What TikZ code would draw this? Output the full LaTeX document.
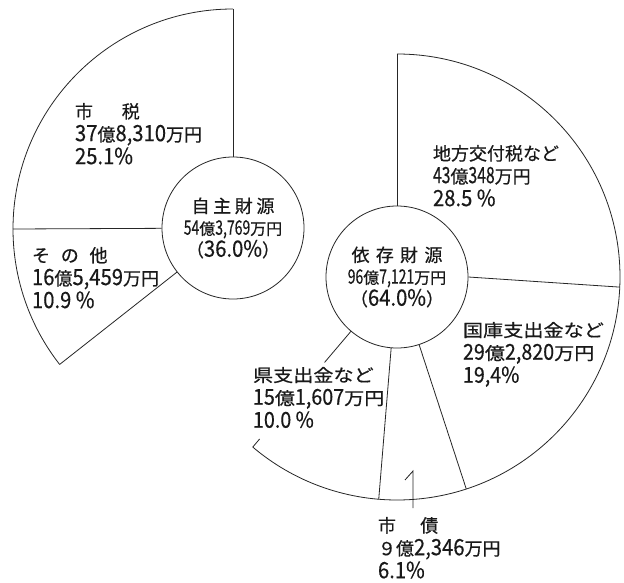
\documentclass[tikz,border=0pt]{standalone}
\usepackage{fontspec}
\setmainfont{Noto Sans CJK JP}[FakeBold=0.5]
\newfontfamily\dg[Scale=1.25,FakeStretch=0.9,FakeBold=0.35]{Noto Sans CJK JP}
\newfontfamily\dgn[Scale=1.25,FakeStretch=0.7,FakeBold=0.35]{Noto Sans CJK JP}
\newfontfamily\cw[FakeStretch=1.15,FakeBold=0.5]{Noto Sans CJK JP}
\usetikzlibrary{calc}
\begin{document}
\begin{tikzpicture}[x=1pt,y=-1pt,
  edge/.style={line width=0.8pt, draw=black!85},
  lbl/.style={anchor=north west, inner sep=0pt, outer sep=0pt, align=left, text=black!90, font=\fontsize{18}{23}\selectfont},
  hub/.style={circle, draw=black!85, fill=white, line width=0.8pt, minimum size=142pt, inner sep=0pt, align=center, text=black!90, font=\fontsize{18}{22}\selectfont}]
\useasboundingbox (0,0) rectangle (624,583);
\fill[white] (0,0) rectangle (624,583);

% centres and arc points
\coordinate (LC) at (233,229);
\coordinate (Ltop) at ($(LC)+(-90:220)$);
\coordinate (Lleft) at ($(LC)+(180:220)$);
\coordinate (Ltip) at ($(LC)+(142:220)$);
\coordinate (RC) at (397,277);
\coordinate (Rtop) at ($(RC)+(-90:223)$);
\coordinate (Rp1) at ($(RC)+(2.6:223)$);
\coordinate (Rp2) at ($(RC)+(71.9:223)$);
\coordinate (Rp3) at ($(RC)+(94.7:223)$);
\coordinate (Rtip) at ($(RC)+(130.3:223)$);

% outer arcs
\draw[edge] (Ltop) arc[start angle=-90, end angle=-218, radius=220];
\draw[edge] (Rtop) arc[start angle=-90, end angle=130.3, radius=223];

% hubs
\node[hub] (L) at (233,228) {自\hspace{0.2em}主\hspace{0.2em}財\hspace{0.2em}源\\{\fontsize{16}{22}\selectfont{\dgn 54}億{\dgn 3,769}万円}\\（{\dg 36.0\%}）};
\node[hub] (R) at (397,277) {依\hspace{0.35em}存\hspace{0.35em}財\hspace{0.35em}源\\{\fontsize{16}{22}\selectfont{\dgn 96}億{\dgn 7,121}万円}\\（{\dg 64.0\%}）};

% radial edges
\draw[edge] (Ltop) -- (L);
\draw[edge] (Lleft) -- (L);
\draw[edge] (Ltip) -- (L);
\draw[edge] (Rtop) -- (R);
\draw[edge] (R.east) -- (Rp1);
\draw[edge] (R) -- (Rp2);
\draw[edge] (R) -- (Rp3);
\coordinate (Rb) at ($(RC)!71pt!(Rtip)$);
\draw[edge] (Rb) -- ($(Rb)!0.27!(Rtip)$);
\draw[edge] ($(Rb)!0.93!(Rtip)$) -- (Rtip);
\coordinate (m1) at (405,480);
\coordinate (m2) at (413,471);
\coordinate (m3) at (413,508);
\draw[edge] (m1) -- (m2) -- (m3);

% labels
\node[lbl] (zei) at (75,103) {市\hspace{1.6em}税\\{\dg 37}億{\dg 8,310}万円\\{\dg 25.1\%}};
\node[lbl] (sonota) at (32,247) {そ\hspace{0.6em}の\hspace{0.6em}他\\{\dg 16}億{\dg 5,459}万円\\{\dg 10.9 \%}};
\node[lbl] (chiho) at (433,145) {地方交付税など\\{\dgn 43}億{\dgn 348}万円\\{\dg 28.5 \%}};
\node[lbl, font=\cw\fontsize{17.5}{23}\selectfont] (kokko) at (463,322) {国庫支出金など\\{\dg 29}億{\dg 2,820}万円\\{\dg 19,4\%}};
\node[lbl, font=\cw\fontsize{17.5}{23}\selectfont] (ken) at (253,367) {県支出金など\\{\dg 15}億{\dg 1,607}万円\\{\dg 10.0 \%}};
\node[lbl] (shisai) at (378,517) {市\hspace{1.35em}債\\９億{\dg 2,346}万円\\{\dg 6.1\%}};
\end{tikzpicture}
\end{document}
